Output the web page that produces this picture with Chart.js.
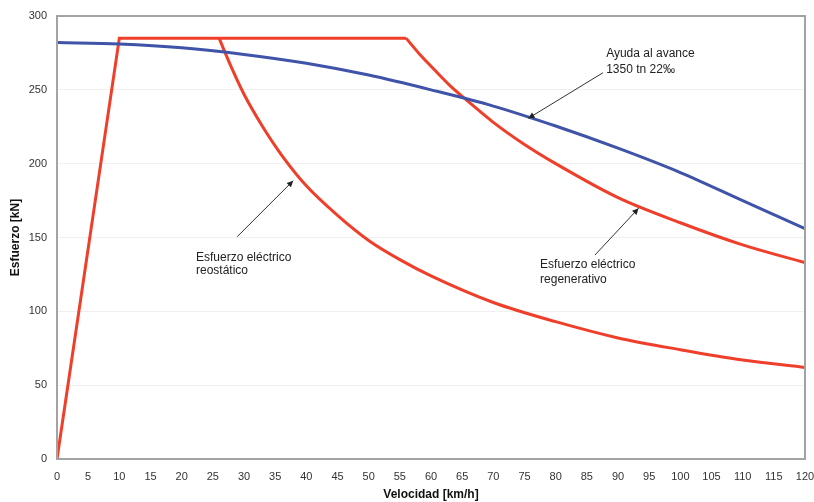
<!DOCTYPE html>
<html>
<head>
<title>Esfuerzo - velocidad</title>
<script src="https://cdn.jsdelivr.net/npm/chart.js@4/dist/chart.umd.min.js"></script>
<style>
  html, body { margin: 0; padding: 0; background: #fff; }
  #wrap { width: 814px; height: 502px; }
</style>
</head>
<body>
<div id="wrap"><canvas id="chart"></canvas></div>

<script>
// ramp + flat top shared by both electric curves
var vRamp = [0, 10, 56];
var fRamp = [0, 285, 285];

// esfuerzo electrico reostatico
var vReo = [26, 28, 30, 33, 36, 40, 45, 50, 55, 60, 70, 80, 90, 100, 110, 120];
var fReo = [285, 265, 247, 225, 206, 185, 165, 148, 135, 124, 106, 93, 82, 74, 67, 62];

// esfuerzo electrico regenerativo
var vReg = [56, 58, 60, 63, 66, 70, 75, 80, 90, 100, 110, 120];
var fReg = [285, 275, 266, 253, 242, 228, 213, 200, 177, 160, 145, 133];

// ayuda al avance 1350 tn 22‰
var vAyu = [0, 10, 20, 30, 40, 50, 60, 70, 80, 90, 100, 110, 120];
var fAyu = [282, 281, 278.5, 274, 268, 260, 250, 239, 225.5, 210.5, 194, 175, 156];

var xTicks = [0, 5, 10, 15, 20, 25, 30, 35, 40, 45, 50, 55, 60, 65, 70, 75, 80, 85, 90, 95, 100, 105, 110, 115, 120];
var yTicks = [0, 50, 100, 150, 200, 250, 300];

var RED = '#ef3f2b';
var BLUE = '#3f53a8';

// annotations: text lines and arrows (in data units)
var notes = [
  { v: 88.1, f: [274.3, 263.9], lines: ['Ayuda al avance', '1350 tn 22\u2030'], from: [87.6, 261.6], to: [75.6, 230.7] },
  { v: 22.3, f: [136.6, 127.5], lines: ['Esfuerzo el\u00e9ctrico', 'reost\u00e1tico'], from: [28.9, 150.5], to: [37.9, 188.5] },
  { v: 77.5, f: [131.4, 121.2], lines: ['Esfuerzo el\u00e9ctrico', 'regenerativo'], from: [86.3, 138.1], to: [93.3, 169.8] }
];

function pts(xs, ys) {
  return xs.map(function (x, i) { return { x: x, y: ys[i] }; });
}

var framePlugin = {
  id: 'frame',
  afterDatasetsDraw: function (chart) {
    var ctx = chart.ctx, a = chart.chartArea;
    ctx.save();
    ctx.strokeStyle = '#a3a3a3';
    ctx.lineWidth = 2;
    ctx.strokeRect(a.left, a.top, a.right - a.left, a.bottom - a.top);
    ctx.restore();
  }
};

var notesPlugin = {
  id: 'notes',
  afterDraw: function (chart) {
    var ctx = chart.ctx, xs = chart.scales.x, ys = chart.scales.y;
    ctx.save();
    notes.forEach(function (n) {
      ctx.fillStyle = '#222';
      ctx.font = '12px "Liberation Sans", Arial, sans-serif';
      ctx.textAlign = 'left';
      ctx.textBaseline = 'middle';
      n.lines.forEach(function (t, i) {
        ctx.fillText(t, xs.getPixelForValue(n.v), ys.getPixelForValue(n.f[i]));
      });
      var x1 = xs.getPixelForValue(n.from[0]), y1 = ys.getPixelForValue(n.from[1]);
      var x2 = xs.getPixelForValue(n.to[0]), y2 = ys.getPixelForValue(n.to[1]);
      ctx.strokeStyle = '#333';
      ctx.lineWidth = 1;
      ctx.beginPath();
      ctx.moveTo(x1, y1);
      ctx.lineTo(x2, y2);
      ctx.stroke();
      var ang = Math.atan2(y2 - y1, x2 - x1), L = 7, W = 0.45;
      ctx.fillStyle = '#222';
      ctx.beginPath();
      ctx.moveTo(x2, y2);
      ctx.lineTo(x2 - L * Math.cos(ang - W), y2 - L * Math.sin(ang - W));
      ctx.lineTo(x2 - L * Math.cos(ang + W), y2 - L * Math.sin(ang + W));
      ctx.closePath();
      ctx.fill();
    });
    ctx.restore();
  }
};

var tickFont = { family: '"Liberation Sans", Arial, sans-serif', size: 11 };
var titleFont = { family: '"Liberation Sans", Arial, sans-serif', size: 12, weight: 'bold' };

new Chart(document.getElementById('chart').getContext('2d'), {
  type: 'line',
  data: {
    datasets: [
      { label: 'Ayuda al avance', data: pts(vAyu, fAyu), borderColor: BLUE, borderWidth: 3, cubicInterpolationMode: 'monotone' },
      { label: 'Rampa', data: pts(vRamp, fRamp), borderColor: RED, borderWidth: 3, tension: 0 },
      { label: 'Reostatico', data: pts(vReo, fReo), borderColor: RED, borderWidth: 3, cubicInterpolationMode: 'monotone' },
      { label: 'Regenerativo', data: pts(vReg, fReg), borderColor: RED, borderWidth: 3, cubicInterpolationMode: 'monotone' }
    ]
  },
  options: {
    responsive: true,
    maintainAspectRatio: false,
    animation: false,
    layout: { padding: { top: 16, right: 9, left: 0, bottom: 0 } },
    elements: { point: { radius: 0 } },
    plugins: { legend: { display: false }, tooltip: { enabled: false } },
    scales: {
      x: {
        type: 'linear',
        min: 0,
        max: 120,
        afterBuildTicks: function (s) { s.ticks = xTicks.map(function (v) { return { value: v }; }); },
        afterFit: function (s) { s.height = 43; s.paddingLeft = 0; s.paddingRight = 0; },
        grid: { display: false, drawTicks: false },
        border: { display: false },
        ticks: { font: tickFont, color: '#333', padding: 11, maxRotation: 0, autoSkip: false },
        title: { display: true, text: 'Velocidad [km/h]', font: titleFont, color: '#111', padding: { top: 0, bottom: 0 } }
      },
      y: {
        min: 0,
        max: 300,
        afterBuildTicks: function (s) { s.ticks = yTicks.map(function (v) { return { value: v }; }); },
        afterFit: function (s) { s.width = 57; s.paddingTop = 0; s.paddingBottom = 0; },
        grid: { color: '#f0f0f0', lineWidth: 1, drawTicks: false },
        border: { display: false },
        ticks: { font: tickFont, color: '#333', padding: 10 },
        title: { display: true, text: 'Esfuerzo [kN]', font: titleFont, color: '#111', padding: { top: 8, bottom: 0 } }
      }
    }
  },
  plugins: [framePlugin, notesPlugin]
});
</script>
</body>
</html>
